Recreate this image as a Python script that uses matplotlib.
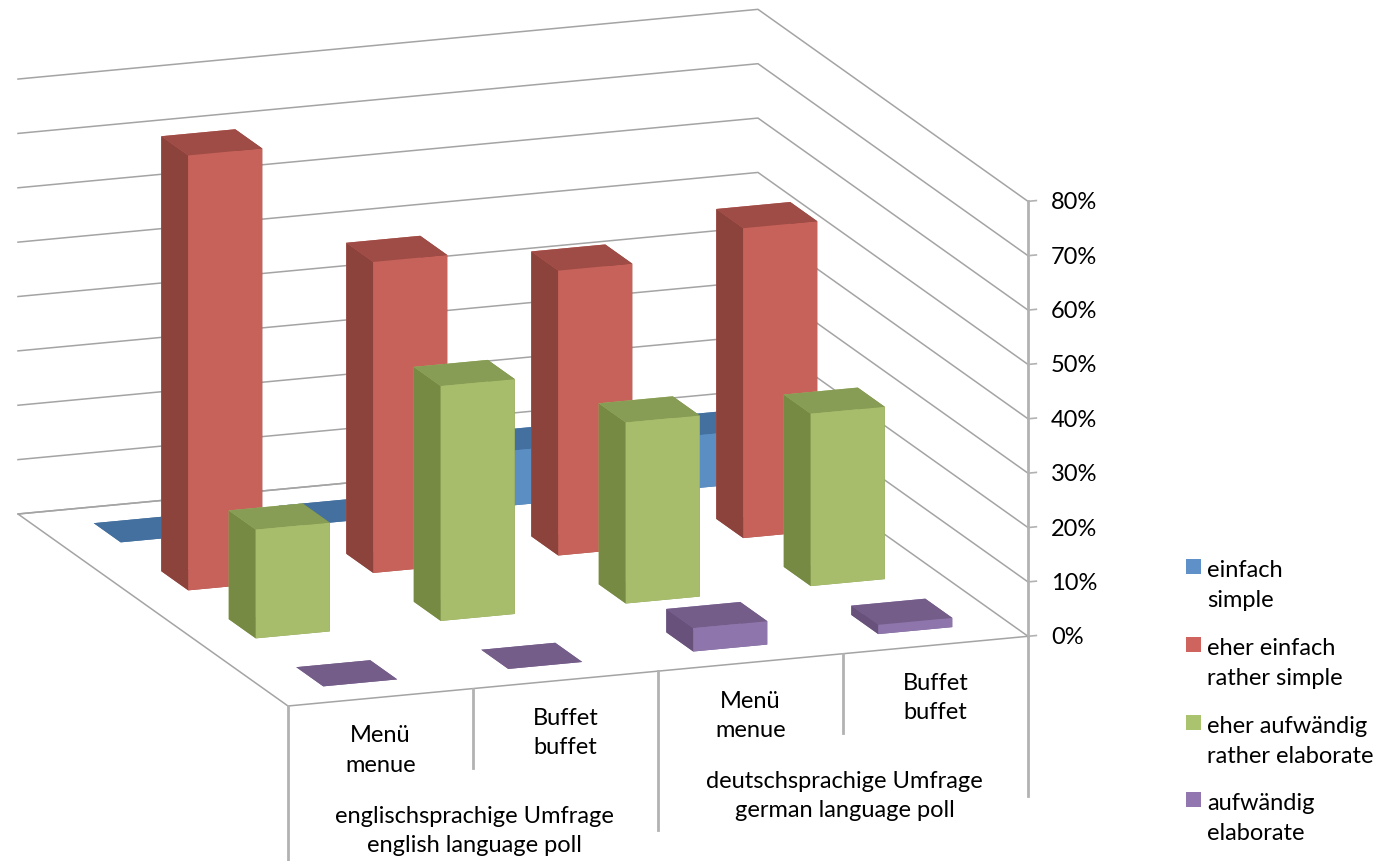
import matplotlib
matplotlib.use('Agg')
import matplotlib.pyplot as plt
from matplotlib.patches import Rectangle
from mpl_toolkits.mplot3d import proj3d

W, H = 1381, 862
plt.rcParams['font.family'] = ['Lato', 'DejaVu Sans']

# data, in percent. front row of the floor is the last series
series_labels = ['einfach\nsimple', 'eher einfach\nrather simple',
                 'eher aufwändig\nrather elaborate', 'aufwändig\nelaborate']
categories = ['Menü\nmenue', 'Buffet\nbuffet', 'Menü\nmenue', 'Buffet\nbuffet']
groups = ['englischsprachige Umfrage\nenglish language poll',
          'deutschsprachige Umfrage\ngerman language poll']
einfach = [0, 0, 10.1, 9.7]
eher_einfach = [80, 57.2, 52.4, 57]
eher_aufwaendig = [20, 43.2, 33.3, 31.7]
aufwaendig = [0, 0, 4.3, 1.7]
z_ticks = [0, 10, 20, 30, 40, 50, 60, 70, 80]

# front, top, side
face_colors = [('#5b8fc4', '#44709f', '#3e6791'),
               ('#c6625a', '#9f4c46', '#8b433c'),
               ('#a7bd6b', '#879c54', '#778a43'),
               ('#8e76ad', '#755d8a', '#68527c')]
legend_colors = ['#5f91c8', '#cf645e', '#aac36e', '#9176b0']
grid_color = '#a4a4a4'
axis_color = '#b2b2b2'
font_size = 17

fig = plt.figure(figsize=(W / 100, H / 100), dpi=100)
ax = fig.add_axes([0, 0, 1, 1], projection='3d', computed_zorder=False)
ax.set_proj_type('ortho')
ax.view_init(elev=15, azim=-110)
ax.set_box_aspect((787, 789, 450))
ax.set_xticks([])
ax.set_yticks([])
ax.set_zticks([])
ax.set_axis_off()

# walls and floor outline
for z in z_ticks:
    ax.plot([0, 4, 4], [4, 4, 0], [z, z, z], color=grid_color, lw=1.1, zorder=1)
ax.plot([4, 0, 0, 4], [4, 4, 0, 0], [0, 0, 0, 0], color=grid_color, lw=1.1, zorder=1)

# value axis
ax.plot([4, 4], [0, 0], [0, 80], color=axis_color, lw=2, zorder=1)
for z in z_ticks:
    ax.plot([4, 4.045], [0, 0], [z, z], color=axis_color, lw=1.2, zorder=1)

# category axis, two levels below the floor
for x, z_end in zip([0, 1, 2, 3, 4], [-30, -14.6, -29.3, -14.6, -29.3]):
    ax.plot([x, x], [0, 0], [0, z_end], color=axis_color, lw=2, zorder=1)

# bars, painted from the back row to the front row
rows = [einfach, eher_einfach, eher_aufwaendig, aufwaendig]
order = 10
for r, values in enumerate(rows):
    front, top, side = face_colors[r]
    y = 3 - r + 0.3
    for c in range(3, -1, -1):
        # -z, +z, -y, +y, -x, +x
        ax.bar3d(c + 0.3, y, 0, 0.4, 0.4, values[c],
                 color=[top, top, front, front, side, side],
                 shade=False, linewidth=0, zorder=order)
        order += 1

ax.set_xlim(0, 4, view_margin=0)
ax.set_ylim(0, 4, view_margin=0)
ax.set_zlim(0, 80, view_margin=0)


def to_px(x, y, z):
    ax.apply_aspect()
    xp, yp, _ = proj3d.proj_transform(x, y, z, ax.get_proj())
    return ax.transData.transform((xp, yp))


# place the box so its front floor edge lands where the original has it
side_px = 862.0
left, bottom = 0.0, 0.0
for _ in range(3):
    ax.set_position([left / W, bottom / H, side_px / W, side_px / H])
    p0 = to_px(0, 0, 0)
    p1 = to_px(4, 0, 0)
    side_px *= 740.0 / (p1[0] - p0[0])
    ax.set_position([left / W, bottom / H, side_px / W, side_px / H])
    p0 = to_px(0, 0, 0)
    left += 288 - p0[0]
    bottom += (H - 707) - p0[1]
ax.set_position([left / W, bottom / H, side_px / W, side_px / H])


def label_at(x, z, s, ha='center'):
    # text sits on the front plane of the box, drawn flat on the figure
    px = to_px(x, 0, z)
    fig.text(px[0] / W, px[1] / H, s, ha=ha, va='center', fontsize=font_size, linespacing=1.48)


for z in z_ticks:
    label_at(4.125, z - 0.5, '%d%%' % z, ha='left')
for i, label in enumerate(categories):
    label_at(i + 0.5, -9.6, label)
for i, label in enumerate(groups):
    label_at(2 * i + 1.01, -26.0, label)

# legend
square_tops = [560, 638, 716, 793]
text_centers = [585.5, 663.5, 741.5, 818.5]
for i, label in enumerate(series_labels):
    fig.add_artist(Rectangle((1186 / W, 1 - (square_tops[i] + 15) / H), 15 / W, 15 / H,
                             transform=fig.transFigure, color=legend_colors[i], lw=0))
    fig.text(1207 / W, 1 - text_centers[i] / H, label, ha='left', va='center',
             fontsize=font_size, linespacing=1.48)

fig.savefig('out.png', dpi=100)
